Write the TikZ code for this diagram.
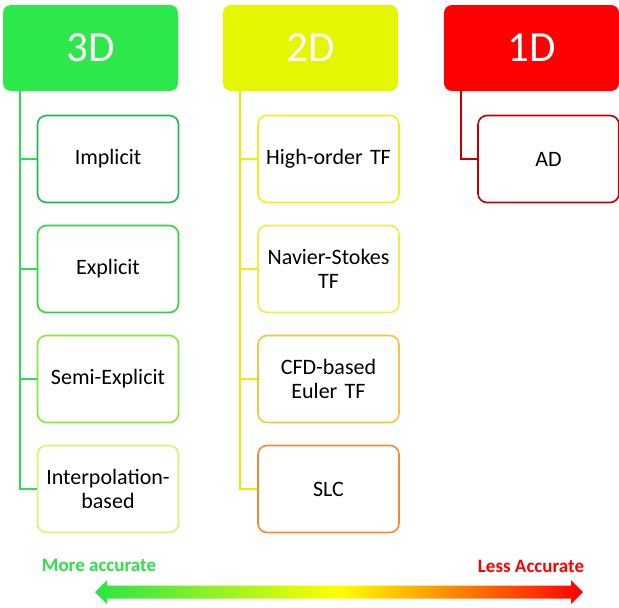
\documentclass[tikz,border=0pt]{standalone}
\usepackage{fontspec}
\setmainfont{Carlito}
\usetikzlibrary{positioning}

\definecolor{green3d}{RGB}{45,232,74}
\definecolor{yellow2d}{RGB}{228,246,0}
\definecolor{red1d}{RGB}{255,0,0}
\definecolor{darkred1d}{RGB}{192,0,0}
\definecolor{lnthree}{RGB}{45,222,80}
\definecolor{lntwo}{RGB}{232,240,0}

\tikzset{
  header/.style={rounded corners=8pt,minimum width=175pt,minimum height=86pt,
    text=white,font=\fontsize{43}{48}\selectfont,inner sep=0pt},
  method/.style={rounded corners=9pt,draw,line width=1.6pt,fill=white,
    minimum width=141pt,minimum height=87pt,text width=132pt,align=center,
    font=\fontsize{22}{24.5}\selectfont,inner sep=0pt},
  tree/.style={line width=1.8pt},
  scalelabel/.style={font=\bfseries\fontsize{19}{22}\selectfont}
}

\begin{document}
\begin{tikzpicture}[x=1pt,y=-1pt]
\useasboundingbox (0,0) rectangle (619,608);

% headers
\node[header,fill=green3d] (h3) at (90.5,48) {3D};
\node[header,fill=yellow2d] (h2) at (310.5,48) {2D};
\node[header,fill=red1d] (h1) at (531.5,48) {1D};

% 3D methods
\node[method,draw={rgb,255:red,30;green,185;blue,80}] (implicit) at (108,159) {Implicit};
\node[method,draw={rgb,255:red,50;green,212;blue,60}] (explicit) at (108,269) {Explicit};
\node[method,draw={rgb,255:red,135;green,232;blue,55}] (semiexpl) at (108,379) {Semi-Explicit};
\node[method,draw={rgb,255:red,218;green,242;blue,115}] (interp) at (108,489) {Interpolation-\\based};

% 2D methods
\node[method,draw={rgb,255:red,242;green,236;blue,30}] (highorder) at (328.5,159) {High-order TF};
\node[method,draw={rgb,255:red,242;green,236;blue,70}] (navier) at (328.5,269) {Navier-Stokes\\TF};
\node[method,draw={rgb,255:red,245;green,198;blue,60}] (cfdeuler) at (328.5,379) {CFD-based\\Euler TF};
\node[method,draw={rgb,255:red,242;green,138;blue,55}] (slc) at (328.5,489) {SLC};

% 1D methods
\node[method,draw=darkred1d] (ad) at (548.5,159) {AD};

% tree lines
\draw[tree,lnthree] ([xshift=17pt]h3.south west) |- (implicit.west);
\draw[tree,lnthree] ([xshift=17pt]h3.south west) |- (explicit.west);
\draw[tree,lnthree] ([xshift=17pt]h3.south west) |- (semiexpl.west);
\draw[tree,lnthree] ([xshift=17pt]h3.south west) |- (interp.west);

\draw[tree,lntwo] ([xshift=17pt]h2.south west) |- (highorder.west);
\draw[tree,lntwo] ([xshift=17pt]h2.south west) |- (navier.west);
\draw[tree,lntwo] ([xshift=17pt]h2.south west) |- (cfdeuler.west);
\draw[tree,lntwo] ([xshift=17pt]h2.south west) |- (slc.west);

\draw[tree,darkred1d] ([xshift=17pt]h1.south west) |- (ad.west);

% accuracy scale
\node[scalelabel,text={rgb,255:red,45;green,225;blue,70}] (more) at (99,565) {More accurate};
\node[scalelabel,text=red1d] (less) at (531,566) {Less Accurate};
\shade[left color={rgb,255:red,40;green,228;blue,70},right color=red1d,middle color={rgb,255:red,255;green,255;blue,0}]
  (95,592) -- (107,580) -- (107,585.5) -- (571,585.5) -- (571,580) -- (583,592)
  -- (571,604) -- (571,598.5) -- (107,598.5) -- (107,604) -- cycle;

\end{tikzpicture}
\end{document}
